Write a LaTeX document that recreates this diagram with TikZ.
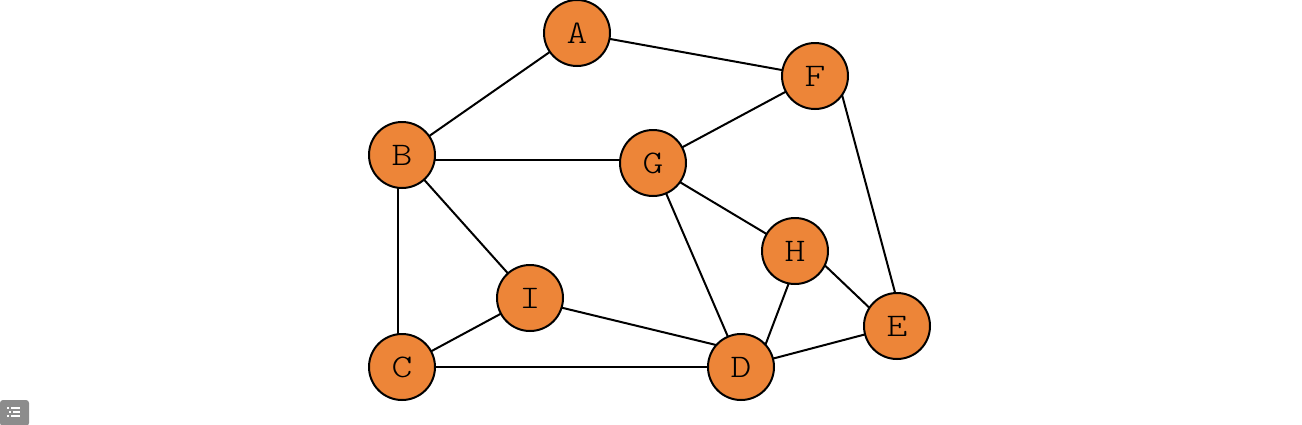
\documentclass[tikz,border=0pt]{standalone}
\usepackage{fontspec}
\newfontfamily\nodefont{Latin Modern Mono Light}[FakeStretch=1.2]
\usetikzlibrary{backgrounds}
\definecolor{nodeorange}{HTML}{ED8538}
\definecolor{icongray}{HTML}{8C8C8C}
\begin{document}
\begin{tikzpicture}[x=1pt,y=-1pt,
  vertex/.style={circle,draw=black,line width=2pt,fill=nodeorange,minimum size=66pt,inner sep=0pt,font=\nodefont\fontsize{33}{36}\selectfont},
  edge/.style={draw=black,line width=2pt}]
\useasboundingbox (0,0) rectangle (1302,424);
\node[vertex] (A) at (577,33) {A};
\node[vertex] (F) at (815,76) {F};
\node[vertex] (B) at (402,155) {B};
\node[vertex] (G) at (653,163) {G};
\node[vertex] (H) at (795,251) {H};
\node[vertex] (E) at (897,326) {E};
\node[vertex] (I) at (530,298) {I};
\node[vertex] (C) at (402,367) {C};
\node[vertex] (D) at (741,367) {D};
\begin{scope}[on background layer]
\draw[edge] (A.center) -- (B.center);
\draw[edge] (A.center) -- (F.center);
\draw[edge] ([yshift=-5pt]B.center) -- ([yshift=3pt]G.center);
\draw[edge] (B.center) -- (I.center);
\draw[edge] ([xshift=-4pt]B.center) -- ([xshift=-4pt]C.center);
\draw[edge] (F.center) -- (G.center);
\draw[edge] ([xshift=22pt]F.center) -- ([xshift=7pt]E.center);
\draw[edge] ([yshift=-3pt]G.center) -- (H.center);
\draw[edge] (G.center) -- (D.center);
\draw[edge] ([yshift=14pt]H.center) -- ([yshift=-8pt]E.center);
\draw[edge] ([xshift=6pt]H.center) -- ([xshift=16pt]D.center);
\draw[edge] (I.center) -- (C.center);
\draw[edge] ([yshift=-2pt]I.center) -- ([yshift=16pt]D.center);
\draw[edge] (C.center) -- (D.center);
\draw[edge] (D.center) -- (E.center);
\end{scope}
% small UI icon bottom-left
\fill[icongray,rounded corners=3pt] (0,400) rectangle (29,426);
\fill[white] (7,407) rectangle (9,409);
\fill[white] (11,407) rectangle (20,409);
\fill[white] (9,411) rectangle (11,413);
\fill[white] (13,411) rectangle (20,413);
\fill[white] (7,415) rectangle (9,417);
\fill[white] (11,415) rectangle (20,417);
\end{tikzpicture}
\end{document}
